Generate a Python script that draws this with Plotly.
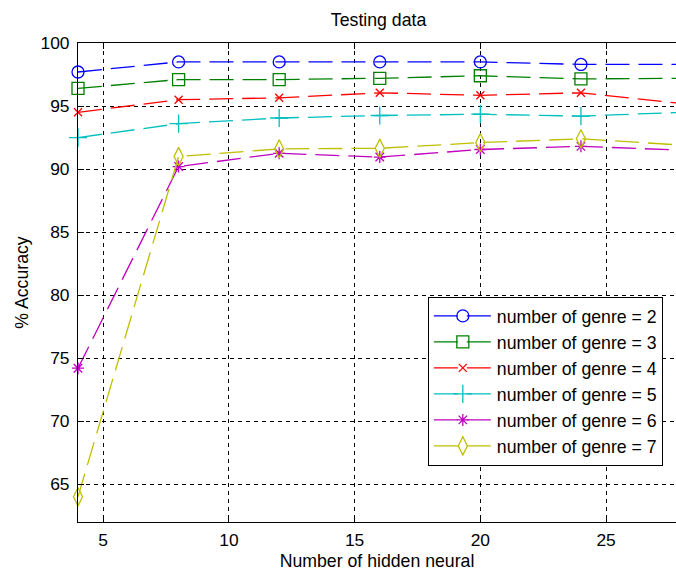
import plotly.graph_objects as go

# Hidden-layer sizes tested
hidden_neurons = [4, 8, 12, 16, 20, 24, 28]

# Testing accuracy (%) per number of genres
acc_genre_2 = [97.7, 98.5, 98.5, 98.5, 98.5, 98.3, 98.3]
acc_genre_3 = [96.4, 97.1, 97.1, 97.2, 97.4, 97.15, 97.2]
acc_genre_4 = [94.5, 95.5, 95.65, 96.05, 95.85, 96.05, 95.2]
acc_genre_5 = [92.5, 93.6, 94.05, 94.25, 94.35, 94.2, 94.5]
acc_genre_6 = [74.2, 90.2, 91.25, 90.95, 91.55, 91.8, 91.5]
acc_genre_7 = [64.0, 91.0, 91.6, 91.65, 92.1, 92.4, 91.9]

series_names = [f"number of genre = {g}" for g in range(2, 8)]
series_values = [acc_genre_2, acc_genre_3, acc_genre_4, acc_genre_5, acc_genre_6, acc_genre_7]

x_ticks = [5, 10, 15, 20, 25]
y_ticks = [65, 70, 75, 80, 85, 90, 95, 100]

colors = ["#0000FF", "#008000", "#FF0000", "#00BFBF", "#BF00BF", "#BFBF00"]
symbols = ["circle-open", "square-open", "x-thin-open", "cross-thin-open",
           "asterisk-open", "diamond-tall-open"]
sizes = [12, 12, 8, 13, 10, 13]

FONT = "Liberation Sans, Arial, sans-serif"
TEXT_SIZE = 17.7

fig = go.Figure()
for name, vals, c, s, sz in zip(series_names, series_values, colors, symbols, sizes):
    fig.add_trace(go.Scatter(
        x=hidden_neurons, y=vals, name=name, mode="lines+markers",
        line=dict(color=c, width=1.3, dash="24px,9px"),
        marker=dict(symbol=s, size=sz, color=c, line=dict(color=c, width=1.3)),
        cliponaxis=False,
    ))

axis_common = dict(
    showline=True, linecolor="black", linewidth=1,
    ticks="inside", ticklen=6, tickcolor="black",
    showgrid=True, gridcolor="black", gridwidth=1, griddash="4px,4px",
    zeroline=False,
    tickfont=dict(family=FONT, size=17.4, color="black"),
)

fig.update_xaxes(
    range=[4, 27.78], tickvals=x_ticks, mirror="ticks", ticklabelstandoff=2,
    title=dict(text="Number of hidden neural", standoff=5,
               font=dict(family=FONT, size=TEXT_SIZE, color="black")),
    **axis_common,
)
fig.update_yaxes(
    range=[62, 100], tickvals=y_ticks, ticklabelstandoff=4,
    title=dict(text="% Accuracy", standoff=7,
               font=dict(family=FONT, size=TEXT_SIZE, color="black")),
    **axis_common,
)

fig.update_layout(
    width=676, height=571,
    margin=dict(l=78, r=0, t=43, b=49),
    paper_bgcolor="white", plot_bgcolor="white",
    title=dict(text="Testing data", x=0.56, xanchor="center",
               y=1 - 20 / 571, yanchor="middle",
               font=dict(family=FONT, size=TEXT_SIZE, color="black")),
    showlegend=True,
    legend=dict(
        x=0.585, y=0.47, xanchor="left", yanchor="top",
        bgcolor="white", bordercolor="black", borderwidth=1,
        font=dict(family=FONT, size=TEXT_SIZE, color="black"),
        itemwidth=58, tracegroupgap=0,
    ),
)

fig.write_html("out.html")
